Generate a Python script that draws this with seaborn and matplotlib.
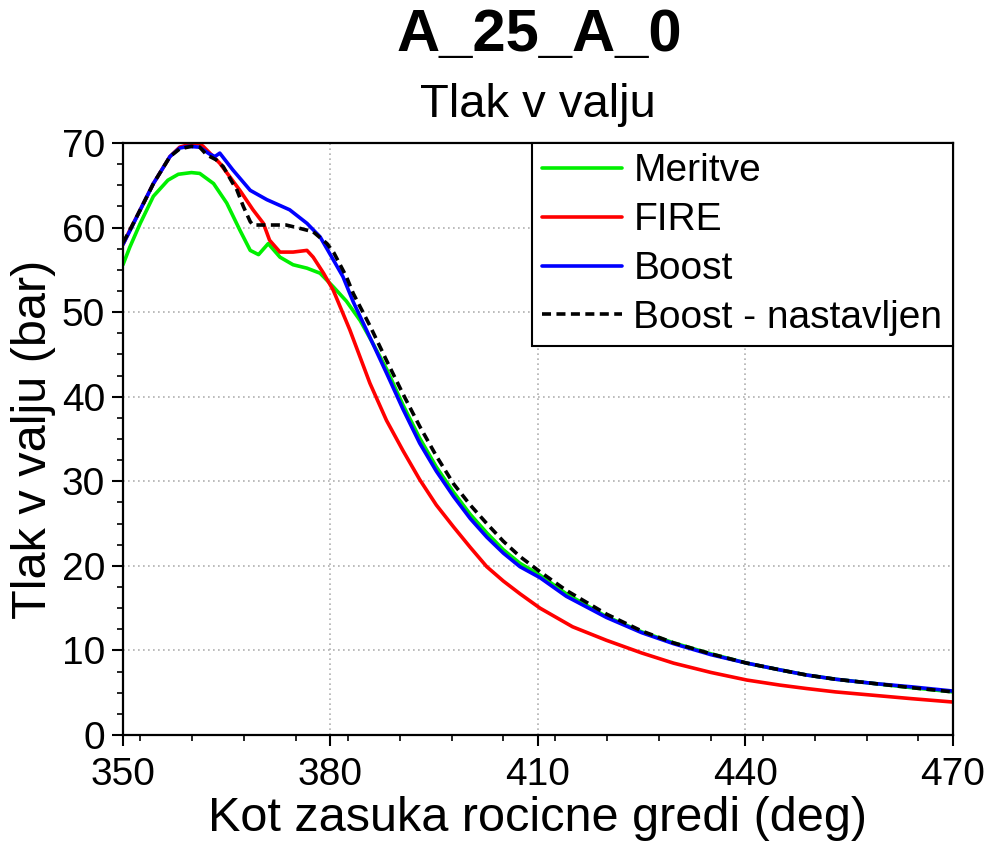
import numpy as np
import pandas as pd
import seaborn as sns
import matplotlib
matplotlib.use("Agg")
import matplotlib.pyplot as plt
from matplotlib.ticker import MultipleLocator

# ---------------- data ----------------
meritve_x = [350, 351, 352.5, 354.4, 356.5, 358, 359.9, 361.1, 363.1, 365, 366.9, 368.4, 369.6,
             371.0, 372.7, 374.6, 376.6, 378.5, 380.4, 382.3, 384.3, 386.2, 388.1, 390.5, 392.9,
             395.3, 397.8, 400.2, 402.6, 405, 407.4, 410.3, 414.1, 419.9, 425, 429.6, 435, 440.2,
             445, 448.8, 453, 458.5, 464, 470]
meritve_y = [55.6, 57.7, 60.5, 63.7, 65.6, 66.3, 66.5, 66.4, 65.2, 62.9, 59.7, 57.3, 56.8,
             58.1, 56.5, 55.6, 55.2, 54.6, 53.0, 51.3, 49.0, 46.2, 43.3, 39.0, 35.1,
             31.7, 28.7, 26.1, 23.9, 21.9, 20.3, 18.9, 16.7, 14.0, 12.2, 10.9, 9.6, 8.5,
             7.7, 7.1, 6.6, 6.1, 5.6, 5.1]

fire_x = [350, 351, 352.5, 354.4, 356.8, 358.2, 359.9, 361.1, 361.6, 364, 366.9, 368.8, 370.3,
          371.2, 372.7, 374.6, 376.6, 377.5, 379, 380.4, 382.8, 385.7, 388.1, 390.5, 392.9,
          395.3, 397.8, 400.2, 402.6, 405, 407.4, 410.3, 415, 419.9, 425, 429.6, 435, 440.2,
          445, 448.8, 453, 458.5, 464, 470]
fire_y = [58.0, 59.7, 62.1, 65.2, 68.4, 69.5, 69.9, 69.9, 69.6, 67.6, 64.4, 62.1, 60.5,
          58.5, 57.1, 57.1, 57.3, 56.5, 54.6, 52.6, 47.9, 41.6, 37.2, 33.6, 30.2,
          27.2, 24.6, 22.2, 19.9, 18.2, 16.7, 15.0, 12.8, 11.2, 9.7, 8.5, 7.4, 6.5,
          5.9, 5.5, 5.1, 4.7, 4.3, 3.9]

boost_x = [350, 351, 352.5, 354.4, 356.8, 358.2, 359.5, 361.1, 362.5, 363.3, 364.0, 365.9,
           368.4, 370.8, 374.1, 376.6, 378.5, 380.4, 381.8, 383.3, 385.2, 388.1, 390.5, 392.9,
           395.3, 397.8, 400.2, 402.6, 405, 407.4, 410.3, 414.1, 419.9, 425, 429.6, 435, 440.2,
           445, 448.8, 453, 458.5, 464, 470]
boost_y = [58.0, 59.6, 62.1, 65.2, 68.4, 69.4, 69.6, 69.5, 68.7, 68.4, 68.8, 66.8,
           64.4, 63.3, 62.1, 60.5, 58.9, 56.2, 54.2, 51.2, 47.9, 42.8, 38.5, 34.5,
           31.2, 28.2, 25.6, 23.4, 21.5, 19.9, 18.6, 16.4, 13.9, 12.1, 10.8, 9.5, 8.5,
           7.7, 7.1, 6.6, 6.1, 5.7, 5.2]

nast_x = [350, 351, 352.5, 354.4, 356.8, 358.2, 359.9, 361.1, 362.1, 363.5, 364.5, 365.9,
          366.4, 367.4, 368.4, 368.8, 373.6, 375.6, 377.5, 379.5, 380.5, 382.3, 383.3, 385.7,
          388.1, 390.5, 392.9, 395.3, 397.8, 400.2, 402.6, 405, 407.4, 410.3, 414.1, 419.9,
          425, 429.6, 435, 440.2, 445, 448.8, 453, 458.5, 464, 470]
nast_y = [58.2, 59.7, 62.1, 65.2, 68.4, 69.3, 69.6, 69.5, 68.6, 68.0, 67.2, 65.2,
          64.6, 62.5, 60.7, 60.3, 60.3, 59.9, 59.5, 58.1, 57.0, 54.2, 52.2, 48.4,
          44.3, 40.3, 36.5, 33.0, 29.7, 27.2, 25.0, 22.9, 21.1, 19.3, 17.1, 14.3,
          12.3, 10.9, 9.6, 8.5, 7.7, 7.1, 6.6, 6.1, 5.6, 5.1]

series_names = ["Meritve", "FIRE", "Boost", "Boost - nastavljen"]
series_colors = ["#00f000", "#ff0000", "#0000ff", "#000000"]
x_ticks = [350, 380, 410, 440, 470]
y_ticks = [0, 10, 20, 30, 40, 50, 60, 70]

frames = []
for name, xs, ys in zip(series_names,
                        [meritve_x, fire_x, boost_x, nast_x],
                        [meritve_y, fire_y, boost_y, nast_y]):
    frames.append(pd.DataFrame({"x": xs, "y": ys, "serija": name}))
df = pd.concat(frames, ignore_index=True)

# ---------------- style ----------------
sns.set_style("white")
plt.rcParams["font.family"] = ["Liberation Sans", "DejaVu Sans"]
plt.rcParams["text.color"] = "black"
plt.rcParams["axes.labelcolor"] = "black"
plt.rcParams["xtick.color"] = "black"
plt.rcParams["ytick.color"] = "black"

fig = plt.figure(figsize=(9.9, 8.47), dpi=100)
ax = fig.add_axes([0.1242, 0.1322, 0.9626 - 0.1242, 0.8312 - 0.1322])

sns.lineplot(data=df, x="x", y="y", hue="serija", style="serija",
             hue_order=series_names, style_order=series_names,
             palette=dict(zip(series_names, series_colors)),
             dashes={"Meritve": "", "FIRE": "", "Boost": "", "Boost - nastavljen": (2.5, 1.5)},
             linewidth=2.6, sort=False, estimator=None, ax=ax)

ax.set_xlim(350, 470)
ax.set_ylim(0, 70)
ax.set_xticks(x_ticks)
ax.set_yticks(y_ticks)
ax.xaxis.set_minor_locator(MultipleLocator(7.5))
ax.yaxis.set_minor_locator(MultipleLocator(2.5))
ax.tick_params(which="major", direction="out", length=8, width=1.5, labelsize=28,
               color="black", labelcolor="black")
ax.tick_params(which="minor", direction="out", length=4.5, width=1.2, color="black")
ax.tick_params(axis="x", which="major", pad=8)
ax.tick_params(axis="y", which="major", pad=5)
ax.tick_params(left=True, bottom=True, which="both")

ax.grid(True, which="major", linestyle=(0, (1, 2)), color="#b0b0b0", linewidth=1.2)
for s in ax.spines.values():
    s.set_visible(True)
    s.set_color("black")
    s.set_linewidth(1.6)

ax.set_xlabel("Kot zasuka rocicne gredi (deg)", fontsize=35, labelpad=2, color="black")
ax.set_ylabel("Tlak v valju (bar)", fontsize=35, labelpad=4, color="black")

fig.text(0.545, 0.958, "A_25_A_0", ha="center", va="center", fontsize=43,
         fontweight="bold", color="black")
fig.text(0.543, 0.876, "Tlak v valju", ha="center", va="center", fontsize=34, color="black")

leg = ax.legend(loc="upper right", fontsize=28, frameon=True, fancybox=False,
                edgecolor="black", borderaxespad=0, handlelength=2.05,
                handletextpad=0.3, labelspacing=0.33, borderpad=0.27, title=None)
leg.get_frame().set_linewidth(1.5)
leg.get_frame().set_alpha(1)
for text in leg.get_texts():
    text.set_color("black")
for line in leg.get_lines():
    line.set_linewidth(2.6)

fig.savefig("out.png", dpi=100)
